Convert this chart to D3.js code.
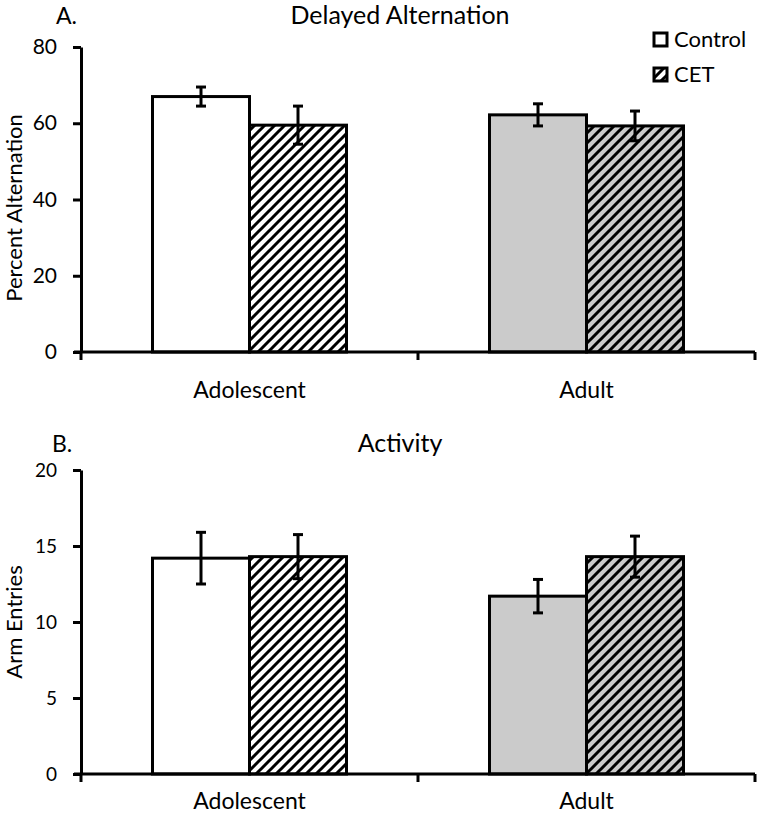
<!DOCTYPE html>
<html>
<head>
<meta charset="utf-8">
<script src="https://cdn.jsdelivr.net/npm/d3@7"></script>
<style>
body{margin:0;background:#fff;}
svg{font-family:Lato,"Open Sans",sans-serif;}
</style>
</head>
<body>
<svg id="chart" width="758" height="818"></svg>
<script>
var groups = ["Adolescent","Adult"];
var series = ["Control","CET"];

// A. Delayed Alternation
var altControl = [67.0, 62.2];
var altControlErr = [2.5, 2.9];
var altCET = [59.5, 59.3];
var altCETErr = [5.0, 3.9];
var altTicks = [0,20,40,60,80];

// B. Activity
var actControl = [14.2, 11.7];
var actControlErr = [1.7, 1.1];
var actCET = [14.3, 14.3];
var actCETErr = [1.45, 1.35];
var actTicks = [0,5,10,15,20];

var groupFill = ["#ffffff","#cbcbcb"];

var svg = d3.select("#chart");
var defs = svg.append("defs");

groupFill.forEach(function(c,i){
    var p = defs.append("pattern")
        .attr("id","hatch"+i)
        .attr("patternUnits","userSpaceOnUse")
        .attr("width",10).attr("height",10);
    p.append("rect").attr("width",10).attr("height",10).attr("fill",c);
    p.append("path")
        .attr("d","M-2,12 L12,-2 M-5,5 L5,-5 M5,15 L15,5")
        .attr("stroke","#000").attr("stroke-width",3);
});

function panel(top, bottom, maxY, ticks, ctrl, ctrlErr, cet, cetErr, letter, title, ylab, letterX, titleY, catPad, ylabY){
    var x0 = d3.scaleBand().domain(groups).range([81,755]);
    var x1 = d3.scaleBand().domain(series).range([0,194]);
    var y = d3.scaleLinear().domain([0,maxY]).range([bottom,top]);

    var g = svg.append("g");

    var rows = [];
    groups.forEach(function(gr,i){
        rows.push({g:gr,gi:i,s:"Control",v:ctrl[i],e:ctrlErr[i]});
        rows.push({g:gr,gi:i,s:"CET",v:cet[i],e:cetErr[i]});
    });

    function bx(d){ return x0(d.g) + (x0.bandwidth()-194)/2 + x1(d.s); }

    g.selectAll(".bar").data(rows).enter().append("rect")
        .attr("x",bx)
        .attr("y",function(d){return y(d.v);})
        .attr("width",x1.bandwidth())
        .attr("height",function(d){return y(0)-y(d.v);})
        .attr("fill",function(d){ return d.s=="CET" ? "url(#hatch"+d.gi+")" : groupFill[d.gi]; })
        .attr("stroke","#000").attr("stroke-width",3);

    // error bars
    var eb = g.selectAll(".err").data(rows).enter().append("g");
    eb.append("line")
        .attr("x1",function(d){return bx(d)+x1.bandwidth()/2;})
        .attr("x2",function(d){return bx(d)+x1.bandwidth()/2;})
        .attr("y1",function(d){return y(d.v+d.e);})
        .attr("y2",function(d){return y(d.v-d.e);})
        .attr("stroke","#000").attr("stroke-width",3);
    [1,-1].forEach(function(sg){
        eb.append("line")
            .attr("x1",function(d){return bx(d)+x1.bandwidth()/2-5;})
            .attr("x2",function(d){return bx(d)+x1.bandwidth()/2+5;})
            .attr("y1",function(d){return y(d.v+sg*d.e);})
            .attr("y2",function(d){return y(d.v+sg*d.e);})
            .attr("stroke","#000").attr("stroke-width",3);
    });

    // y axis
    var ya = g.append("g").attr("transform","translate(81,0)")
        .call(d3.axisLeft(y).tickValues(ticks).tickSize(8).tickSizeOuter(0).tickPadding(16));
    ya.select(".domain").attr("stroke","#000").attr("stroke-width",3);
    ya.selectAll(".tick line").attr("stroke","#000").attr("stroke-width",3);
    ya.selectAll("text").attr("font-size",maxY==80?21:19).attr("fill","#000").attr("font-family","Lato,sans-serif");

    // x axis
    var xa = g.append("g").attr("transform","translate(0,"+bottom+")")
        .call(d3.axisBottom(x0).tickSize(0).tickPadding(catPad));
    xa.select(".domain").remove();
    xa.selectAll("text").attr("font-size",23).attr("fill","#000").attr("font-family","Lato,sans-serif");
    g.append("line").attr("x1",74).attr("x2",755).attr("y1",bottom).attr("y2",bottom)
        .attr("stroke","#000").attr("stroke-width",3);
    g.selectAll(".xt").data([81,418,755]).enter().append("line")
        .attr("x1",function(d){return d;}).attr("x2",function(d){return d;})
        .attr("y1",bottom).attr("y2",bottom+8)
        .attr("stroke","#000").attr("stroke-width",3);

    g.append("text").attr("x",letterX).attr("y",titleY).attr("font-size",23).text(letter);
    g.append("text").attr("x",400).attr("y",titleY).attr("font-size",25)
        .attr("text-anchor","middle").text(title);
    g.append("text")
        .attr("transform","translate(22,"+ylabY+") rotate(-90)")
        .attr("text-anchor","middle").attr("font-size",22).text(ylab);
}

panel(47,352,80,altTicks,altControl,altControlErr,altCET,altCETErr,"A.","Delayed Alternation","Percent Alternation",56,24,30,208);
panel(470,774,20,actTicks,actControl,actControlErr,actCET,actCETErr,"B.","Activity","Arm Entries",52,452,19,622);

// legend
var leg = svg.append("g").selectAll("g").data(series).enter().append("g")
    .attr("transform",function(d,i){return "translate(654,"+(33+i*35)+")";});
leg.append("rect").attr("width",13).attr("height",13)
    .attr("fill",function(d,i){return i==0?"#fff":"url(#hatch0)";})
    .attr("stroke","#000").attr("stroke-width",3);
leg.append("text").attr("x",20).attr("y",14).attr("font-size",22).text(function(d){return d;});
</script>
</body>
</html>
